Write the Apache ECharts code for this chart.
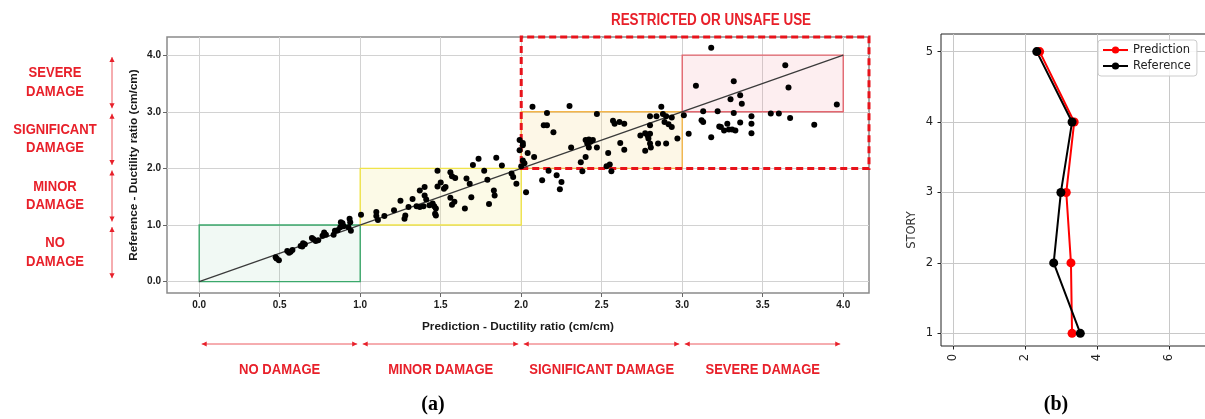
<!DOCTYPE html>
<html><head><meta charset="utf-8">
<script src="https://cdn.jsdelivr.net/npm/echarts@6/dist/echarts.min.js"></script>
<style>html,body{margin:0;padding:0;background:#fff}#c{width:1205px;height:419px}</style>
</head><body><div id="c"></div>
<script>
// ---------- DATA ----------
const predictionDuctility = [
  0.475,0.48,0.495,0.547,0.558,0.568,0.579,0.63,0.64,0.656,0.645,0.71,0.724,0.739,0.70,0.766,0.776,0.787,0.835,0.843,0.86,0.876,0.89,0.897,0.88,0.934,0.938,0.927,0.942,1.005,
  1.10,1.10,1.11,1.15,1.21,1.25,1.28,1.275,1.30,1.325,1.35,1.37,1.37,1.40,1.393,1.40,1.41,1.43,1.45,1.46,1.47,1.465,1.47,1.48,1.48,1.50,1.52,1.53,1.56,1.57,1.59,1.56,1.57,1.585,1.65,1.66,1.68,1.69,1.70,1.735,1.77,1.79,1.80,1.83,1.835,1.845,1.88,1.94,1.95,1.97,
  2.07,2.30,2.16,2.47,2.14,2.16,2.20,1.99,2.01,2.01,1.99,2.04,2.08,2.01,2.02,2.00,2.03,2.13,2.17,2.22,2.25,2.24,2.31,2.37,2.38,2.40,2.40,2.42,2.43,2.445,2.41,2.42,2.47,2.54,2.53,2.55,2.56,2.57,2.58,2.61,2.64,2.615,2.64,2.74,2.77,2.785,2.80,2.79,2.80,2.77,2.805,2.80,2.80,2.84,2.85,2.87,2.88,2.89,2.90,2.90,2.915,2.935,2.935,2.97,
  3.01,3.04,3.18,3.64,3.085,3.32,3.66,3.30,3.36,3.37,3.96,3.13,3.22,3.32,3.43,3.55,3.60,3.67,3.12,3.13,3.28,3.23,3.26,3.29,3.31,3.33,3.24,3.36,3.43,3.43,3.18,3.82
];
const referenceDuctility = [
  0.43,0.41,0.38,0.54,0.51,0.53,0.56,0.63,0.62,0.66,0.68,0.75,0.72,0.73,0.77,0.81,0.87,0.83,0.83,0.90,0.91,0.96,1.03,0.98,1.05,1.11,1.05,0.96,0.90,1.18,
  1.23,1.16,1.09,1.16,1.26,1.43,1.17,1.11,1.32,1.46,1.33,1.32,1.61,1.67,1.33,1.52,1.45,1.35,1.38,1.33,1.29,1.20,1.17,1.96,1.68,1.75,1.64,1.67,1.93,1.86,1.83,1.48,1.36,1.41,1.29,1.82,1.73,1.49,2.06,2.17,1.96,1.80,1.37,1.61,1.52,2.19,2.05,1.91,1.85,1.73,
  3.09,3.10,2.98,2.96,2.76,2.76,2.64,2.50,2.45,2.41,2.32,2.27,2.20,2.14,2.09,2.04,1.58,1.79,1.96,1.88,1.76,1.63,2.37,2.11,1.95,2.20,2.50,2.51,2.47,2.50,2.44,2.37,2.37,2.27,2.04,2.07,1.95,2.84,2.79,2.82,2.79,2.45,2.33,2.58,2.62,2.58,2.61,2.53,2.44,2.31,2.37,2.92,2.76,2.92,2.44,3.09,2.96,2.82,2.44,2.92,2.78,2.73,2.90,2.53,
  2.94,2.61,4.13,3.82,3.46,3.54,3.43,3.22,3.29,3.14,3.13,3.01,3.01,2.98,2.92,2.97,2.97,2.89,2.85,2.82,2.79,2.74,2.67,2.685,2.685,2.67,2.73,2.81,2.79,2.62,2.55,2.77
];
const damageBounds = [0, 1, 2, 3, 4];
const damageLabelsBottom = ['NO DAMAGE', 'MINOR DAMAGE', 'SIGNIFICANT DAMAGE', 'SEVERE DAMAGE'];
const damageLabelsLeft = ['NO\nDAMAGE', 'MINOR\nDAMAGE', 'SIGNIFICANT\nDAMAGE', 'SEVERE\nDAMAGE'];
const restrictedX = [2, 4.17];
const restrictedY = [2, 4.32];
const xTicksA = [0, 0.5, 1, 1.5, 2, 2.5, 3, 3.5, 4];
const yTicksA = [0, 1, 2, 3, 4];

const stories = [1, 2, 3, 4, 5];
const storyPrediction = [3.31, 3.28, 3.15, 3.37, 2.41];
const storyReference  = [3.54, 2.80, 3.00, 3.31, 2.33];
const xTicksB = [0, 2, 4, 6];
const yTicksB = [1, 2, 3, 4, 5];

// ---------- STYLE ----------
const NARROW = '"Liberation Sans",Arial,sans-serif';
const DEJAVU = '"DejaVu Sans",sans-serif';
const RED = '#e8202a';
const zoneStyles = [
  {color: 'rgba(60,170,105,0.07)',  borderColor: '#3ba86b'},
  {color: 'rgba(245,238,170,0.28)', borderColor: '#f0e44a'},
  {color: 'rgba(248,228,170,0.28)', borderColor: '#f3b54a'},
  {color: 'rgba(235,100,115,0.11)', borderColor: '#e3676f'}
];

const chart = echarts.init(document.getElementById('c'), null, {renderer: 'canvas'});

const zoneAreas = damageBounds.slice(0, -1).map((b, i) => [
  {coord: [b, b], itemStyle: {color: zoneStyles[i].color, borderColor: zoneStyles[i].borderColor, borderWidth: 1.4}},
  {coord: [damageBounds[i + 1], damageBounds[i + 1]]}
]);
const restrictedArea = [
  {coord: [restrictedX[0], restrictedY[0]], itemStyle: {color: 'rgba(0,0,0,0)', borderColor: '#e8131b', borderWidth: 3, borderType: [7, 4]}},
  {coord: [restrictedX[1], restrictedY[1]]}
];
const first = damageBounds[0], last = damageBounds[damageBounds.length - 1];

const tickLabA = {fontFamily: NARROW, fontWeight: 'bold', fontSize: 10, color: '#1a1a1a'};
const tickLabB = {fontFamily: DEJAVU, fontSize: 11.5, color: '#222'};
const nameStyleA = {fontFamily: NARROW, fontWeight: 'bold', fontSize: 11.8, color: '#1a1a1a'};

chart.setOption({
  animation: false,
  backgroundColor: '#fff',
  grid: [
    {left: 167, right: 336, top: 37, bottom: 126, show: true, borderColor: '#8a8a8a', borderWidth: 1.5, outerBoundsMode: 'none', containLabel: false},
    {left: 941, right: -6, top: 34, bottom: 73, show: true, borderColor: '#222', borderWidth: 1, outerBoundsMode: 'none', containLabel: false}
  ],
  xAxis: [
    {type: 'value', gridIndex: 0, min: -0.2, max: 4.16,
     name: 'Prediction - Ductility ratio (cm/cm)', nameLocation: 'middle', nameGap: 28, nameMoveOverlap: false, nameTextStyle: nameStyleA,
     axisLine: {show: false, onZero: false},
     axisTick: {show: true, customValues: xTicksA, length: 4, lineStyle: {color: '#666'}},
     axisLabel: Object.assign({customValues: xTicksA, margin: 7, formatter: v => v.toFixed(1)}, tickLabA),
     splitLine: {show: true, lineStyle: {color: '#d2d2d2', width: 1}}},
    {type: 'value', gridIndex: 1, min: -0.33, max: 7.17,
     axisLine: {show: false, onZero: false},
     axisTick: {show: true, customValues: xTicksB, length: 3.5, lineStyle: {color: '#222'}},
     axisLabel: Object.assign({customValues: xTicksB, margin: 8, rotate: 90, formatter: v => String(v)}, tickLabB),
     splitLine: {show: true, lineStyle: {color: '#c8c8c8', width: 1}}}
  ],
  yAxis: [
    {type: 'value', gridIndex: 0, min: -0.2, max: 4.32,
     name: 'Reference - Ductility ratio (cm/cm)', nameLocation: 'middle', nameGap: 27, nameMoveOverlap: false, nameTextStyle: nameStyleA,
     axisLine: {show: false, onZero: false},
     axisTick: {show: true, customValues: yTicksA, length: 4, lineStyle: {color: '#666'}},
     axisLabel: Object.assign({customValues: yTicksA, margin: 6, formatter: v => v.toFixed(1)}, tickLabA),
     splitLine: {show: true, lineStyle: {color: '#d2d2d2', width: 1}}},
    {type: 'value', gridIndex: 1, min: 0.82, max: 5.25,
     axisLine: {show: false, onZero: false},
     axisTick: {show: true, customValues: yTicksB, length: 3.5, lineStyle: {color: '#222'}},
     axisLabel: Object.assign({customValues: yTicksB, margin: 8, formatter: v => String(v)}, tickLabB),
     splitLine: {show: true, lineStyle: {color: '#c8c8c8', width: 1}}}
  ],
  legend: {
    data: ['Prediction', 'Reference'], orient: 'vertical', left: 1098, top: 40,
    itemWidth: 25, itemHeight: 9, itemGap: 4, padding: [4, 6, 4, 4],
    borderColor: '#cccccc', borderWidth: 1, borderRadius: 3, backgroundColor: 'rgba(255,255,255,0.85)',
    textStyle: {fontFamily: DEJAVU, fontSize: 11.5, color: '#222'}
  },
  series: [
    {type: 'line', name: 'fit', xAxisIndex: 0, yAxisIndex: 0, data: [[first, first], [last, last]],
     symbol: 'none', clip: false, silent: true, z: 3,
     lineStyle: {color: '#3a3a3a', width: 1.3},
     markArea: {silent: true, label: {show: false}, data: zoneAreas.concat([restrictedArea])}},
    {type: 'scatter', name: 'points', xAxisIndex: 0, yAxisIndex: 0, z: 5,
     data: predictionDuctility.map((p, i) => [p, referenceDuctility[i]]),
     symbolSize: 6, itemStyle: {color: '#000000', opacity: 1}},
    {type: 'line', name: 'Prediction', xAxisIndex: 1, yAxisIndex: 1,
     data: stories.map((s, i) => [storyPrediction[i], s]),
     symbol: 'circle', symbolSize: 9, lineStyle: {color: '#ff0000', width: 2}, itemStyle: {color: '#ff0000', opacity: 1}},
    {type: 'line', name: 'Reference', xAxisIndex: 1, yAxisIndex: 1,
     data: stories.map((s, i) => [storyReference[i], s]),
     symbol: 'circle', symbolSize: 9, lineStyle: {color: '#000000', width: 2}, itemStyle: {color: '#000000', opacity: 1}}
  ]
});

// ---------- ANNOTATIONS (positioned through the chart scales) ----------
const px = v => chart.convertToPixel({gridIndex: 0}, [v, 0])[0];
const py = v => chart.convertToPixel({gridIndex: 0}, [0, v])[1];

function arrow(x1, y1, x2, y2) {
  const dx = x2 - x1, dy = y2 - y1, L = Math.hypot(dx, dy), ux = dx / L, uy = dy / L;
  const nx = -uy, ny = ux, h = 5, w = 2.6;
  const head = (x, y, sx, sy) => ({type: 'polygon', silent: true,
    shape: {points: [[x, y], [x - sx * h + nx * w, y - sy * h + ny * w], [x - sx * h - nx * w, y - sy * h - ny * w]]},
    style: {fill: RED}});
  return [
    {type: 'line', silent: true, shape: {x1, y1, x2, y2}, style: {stroke: '#ec5a60', lineWidth: 1}},
    head(x2, y2, ux, uy), head(x1, y1, -ux, -uy)
  ];
}
const labelFont = 'bold 15px ' + NARROW;
const SQ = 0.87;
const g = [];
for (let i = 0; i < damageBounds.length - 1; i++) {
  const a = damageBounds[i], b = damageBounds[i + 1];
  g.push(...arrow(px(a) + 2.5, 344, px(b) - 3, 344));
  g.push({type: 'text', silent: true, x: (px(a) + px(b)) / 2, y: 370, scaleX: SQ,
    style: {text: damageLabelsBottom[i], fill: RED, font: labelFont, align: 'center', verticalAlign: 'middle'}});
  g.push(...arrow(112, py(a) - 3.5, 112, py(b) + 2));
  g.push({type: 'text', silent: true, x: 55, y: (py(a) + py(b)) / 2 - 1, scaleX: SQ,
    style: {text: damageLabelsLeft[i], fill: RED, font: labelFont, lineHeight: 18.5, align: 'center', verticalAlign: 'middle'}});
}
g.push({type: 'text', silent: true, x: 711, y: 21, scaleX: 0.84,
  style: {text: 'RESTRICTED OR UNSAFE USE', fill: RED, font: 'bold 16px ' + NARROW, align: 'center', verticalAlign: 'middle'}});
g.push({type: 'text', silent: true, x: 912, y: 230, rotation: Math.PI / 2,
  style: {text: 'STORY', fill: '#333', font: '11.5px ' + DEJAVU, align: 'center', verticalAlign: 'middle'}});
g.push({type: 'text', silent: true, x: 433, y: 405,
  style: {text: '(a)', fill: '#000', font: 'bold 20px "Liberation Serif","Times New Roman",serif', align: 'center', verticalAlign: 'middle'}});
g.push({type: 'text', silent: true, x: 1056, y: 405,
  style: {text: '(b)', fill: '#000', font: 'bold 20px "Liberation Serif","Times New Roman",serif', align: 'center', verticalAlign: 'middle'}});
chart.setOption({graphic: {elements: g}});
</script>
</body></html>
